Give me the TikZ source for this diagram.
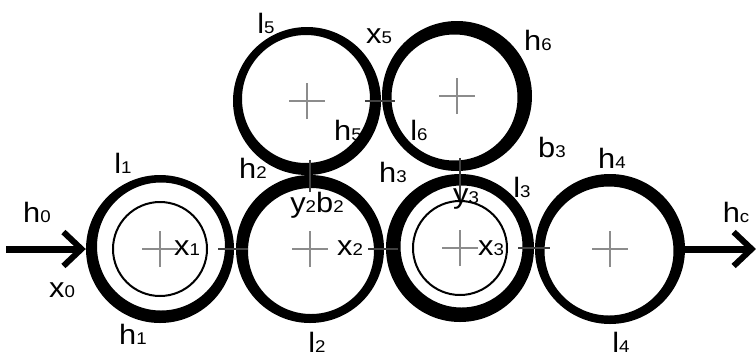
\documentclass[tikz,border=0pt]{standalone}
\usepackage{fontspec}
\setmainfont{Liberation Sans}[FakeStretch=1.1]
\usetikzlibrary{arrows.meta}
\newcommand\lsub[1]{{\fontsize{17}{17}\selectfont #1}}
\begin{document}
\begin{tikzpicture}[x=1pt,y=-1pt,
  lab/.style={font=\fontsize{28}{28}\selectfont, inner sep=0pt, text height=20pt, text depth=0pt},
  cross/.style={draw=black!45, line width=1.2pt},
  tick/.style={draw=black!75, line width=1.4pt},
  hub/.style={draw, line width=2pt},
  roller/.style={circle, minimum size=#1, inner sep=0pt},
  feed/.style={line width=7pt, -{Straight Barb[length=18pt,width=34pt,line width=6pt]}},
  ringfill/.style={fill=black, even odd rule}]
\useasboundingbox (0,0) rectangle (756,360);
% roller outlines (named for connectors)
\node[roller=148pt] (c1) at (160,249) {};
\node[roller=148pt] (c2) at (310,249) {};
\node[roller=148pt] (c3) at (460,248) {};
\node[roller=150pt] (c4) at (610,249) {};
\node[roller=148pt] (c5) at (307,101) {};
\node[roller=150pt] (c6) at (457,96) {};
% rings of varying thickness
\fill[ringfill] (160,249) circle[radius=74pt] (161,246.5) circle[radius=64pt];
\fill[ringfill] (310,249) circle[radius=74pt] (311,251) circle[radius=63pt];
\fill[ringfill] (460,248) circle[radius=74pt] (461.5,246.5) circle[radius=61pt];
\fill[ringfill] (610,249) circle[radius=75pt] (609,251) circle[radius=64.5pt];
\fill[ringfill] (307,101) circle[radius=74pt] (306,99) circle[radius=64pt];
\fill[ringfill] (457,96) circle[radius=75pt] (454.5,97.5) circle[radius=63pt];
% inner hubs
\draw[hub] (c1.center) circle[radius=47pt];
\draw[hub] (c3.center) circle[radius=47pt];
% centre crosses
\foreach \c in {c1,c2,c3,c4,c5,c6}{
  \draw[cross] ([xshift=-18pt]\c.center) -- ([xshift=18pt]\c.center)
               ([yshift=-18pt]\c.center) -- ([yshift=18pt]\c.center);
}
% contact ticks
\draw[tick] ([xshift=-16pt]c1.east) -- ([xshift=14pt]c1.east);
\draw[tick] ([xshift=-16pt]c2.east) -- ([xshift=14pt]c2.east);
\draw[tick] ([xshift=-16pt]c3.east) -- ([xshift=16pt]c3.east);
\draw[tick] ([xshift=-16pt]c5.east) -- ([xshift=14pt]c5.east);
\draw[tick] ([yshift=15pt]c2.north) -- ([yshift=-17pt]c2.north);
\draw[tick] ([yshift=16pt]c3.north) -- ([yshift=-28pt]c3.north);
% feed arrows
\coordinate (in) at (6,249);
\coordinate (out) at (756,249);
\draw[feed] (in) -- (c1.west);
\draw[feed] (c4.east) -- (out);
% labels
\node[lab] (lh0) at (37,212) {h\lsub{0}};
\node[lab] (lx0) at (62,287) {x\lsub{0}};
\node[lab] (ll1) at (123,163) {l\lsub{1}};
\node[lab] (lh1) at (133,334) {h\lsub{1}};
\node[lab] (lx1) at (187,245) {x\lsub{1}};
\node[lab] (lh2) at (253,168) {h\lsub{2}};
\node[lab] (ly2) at (317,202) {y\lsub{2}b\lsub{2}};
\node[lab] (lx2) at (350,245) {x\lsub{2}};
\node[lab] (ll2) at (317,342) {l\lsub{2}};
\node[lab] (lh3) at (393,172) {h\lsub{3}};
\node[lab] (ly3) at (466,193) {y\lsub{3}};
\node[lab] (ll3) at (522,187) {l\lsub{3}};
\node[lab] (lx3) at (491,245) {x\lsub{3}};
\node[lab] (lb3) at (552,147) {b\lsub{3}};
\node[lab] (lh4) at (612,158) {h\lsub{4}};
\node[lab] (lhc) at (736,212) {h\lsub{c}};
\node[lab] (ll4) at (621,342) {l\lsub{4}};
\node[lab] (ll5) at (266,23) {l\lsub{5}};
\node[lab] (lx5) at (379,33) {x\lsub{5}};
\node[lab] (lh5) at (348,130) {h\lsub{5}};
\node[lab] (ll6) at (419,130) {l\lsub{6}};
\node[lab] (lh6) at (538,40) {h\lsub{6}};
\end{tikzpicture}
\end{document}
